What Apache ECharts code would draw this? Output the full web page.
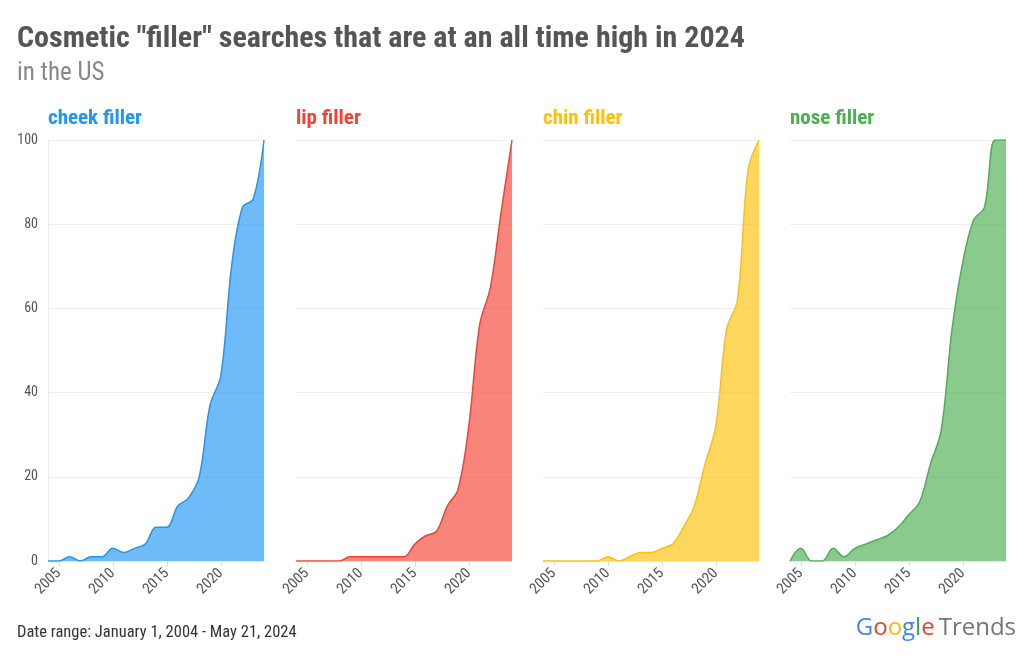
<!DOCTYPE html>
<html>
<head>
<meta charset="utf-8">
<script src="https://cdn.jsdelivr.net/npm/echarts@6/dist/echarts.min.js"></script>
<style>html,body{margin:0;padding:0;background:#fff}#c{width:1032px;height:664px}</style>
</head>
<body>
<div id="c"></div>
<script>
const years = [2004,2005,2006,2007,2008,2009,2010,2011,2012,2013,2014,2015,2016,2017,2018,2019,2020,2021,2022,2023,2024];
const seriesNames = ['cheek filler','lip filler','chin filler','nose filler'];
const cheek = [0,0,1,0,1,1,3,2,3,4,8,8,13,15,20,37,44,70,84,86,100];
const lip   = [0,0,0,0,0,1,1,1,1,1,1,4,6,7,13,17,32,56,65,83,100];
const chin  = [0,0,0,0,0,0,1,0,1,2,2,3,4,8,13,23,32,55,62,93,100];
const nose  = [0,3,0,0,3,1,3,4,5,6,8,11,14,23,31,55,71,81,84,100,100];
const yTicks = [0,20,40,60,80,100];
const xTicks = [2005,2010,2015,2020];
const colors = ['#2196F3','#F44336','#FFC107','#4CAF50'];
const allValues = [cheek, lip, chin, nose];

const FONT = '"Roboto Condensed","Liberation Sans Narrow","DejaVu Sans Condensed","Arial Narrow",Roboto,sans-serif';
const lefts = [48, 296, 543, 790];
const width = 216;

const grids = [], xAxes = [], yAxes = [], series = [], titles = [];
titles.push({text:'Cosmetic "filler" searches that are at an all time high in 2024', left:17, top:24, padding:0,
  textStyle:{fontFamily:FONT, fontSize:30, fontWeight:'bold', color:'#555'}});
titles.push({text:'in the US', left:17, top:61, padding:0,
  textStyle:{fontFamily:FONT, fontSize:25, fontWeight:'normal', color:'#888'}});
seriesNames.forEach((n,i)=>{
  titles.push({text:n, left:lefts[i], top:108, padding:0,
    textStyle:{fontFamily:FONT, fontSize:21, fontWeight:'bold', color:colors[i]}});
  grids.push({left:lefts[i], top:140, width:width, height:421});
  xAxes.push({type:'value', gridIndex:i, min:2004, max:2024,
    axisLine:{show:true, lineStyle:{color:'#e6e6e6'}},
    axisTick:{show:true, customValues:xTicks, length:5, lineStyle:{color:'#ddd'}},
    axisLabel:{customValues:xTicks, rotate:45, fontFamily:FONT, fontSize:15, color:'#555', margin:10,
      formatter:v=>String(v)},
    splitLine:{show:false}});
  yAxes.push({type:'value', gridIndex:i, min:0, max:100, interval:20,
    axisLine:{show:i===0, lineStyle:{color:'#eee'}},
    axisTick:{show:false},
    axisLabel:{show:i===0, fontFamily:FONT, fontSize:14, color:'#555', margin:10},
    splitLine:{show:true, lineStyle:{color:'#eee'}}});
  series.push({type:'line', name:n, xAxisIndex:i, yAxisIndex:i,
    data: years.map((y,k)=>[y, allValues[i][k]]),
    smooth:0.35, showSymbol:false, symbol:'none',
    lineStyle:{color:colors[i], width:1.5},
    areaStyle:{color:colors[i], opacity:0.65},
    itemStyle:{color:colors[i]}});
});

const LOGO = '"Open Sans",Roboto,sans-serif';
const chart = echarts.init(document.getElementById('c'));
chart.setOption({
  animation:false,
  title: titles,
  grid: grids, xAxis: xAxes, yAxis: yAxes, series: series,
  graphic:[
    {type:'text', left:17, top:624, style:{text:'Date range: January 1, 2004 - May 21, 2024',
      fontFamily:FONT, fontSize:16.5, fill:'#333'}},
    {type:'text', right:16, top:616, style:{
      text:'{b|G}{r|o}{y|o}{b|g}{g|l}{r|e}{s| }{t|Trends}',
      rich:{
        b:{fill:'#4285F4', fontSize:24, fontFamily:LOGO},
        r:{fill:'#EA4335', fontSize:24, fontFamily:LOGO},
        y:{fill:'#FBBC05', fontSize:24, fontFamily:LOGO},
        g:{fill:'#34A853', fontSize:24, fontFamily:LOGO},
        s:{fontSize:24, width:4, fontFamily:LOGO},
        t:{fill:'#757575', fontSize:24, fontFamily:LOGO}
      }}}
  ]
});
</script>
</body>
</html>
